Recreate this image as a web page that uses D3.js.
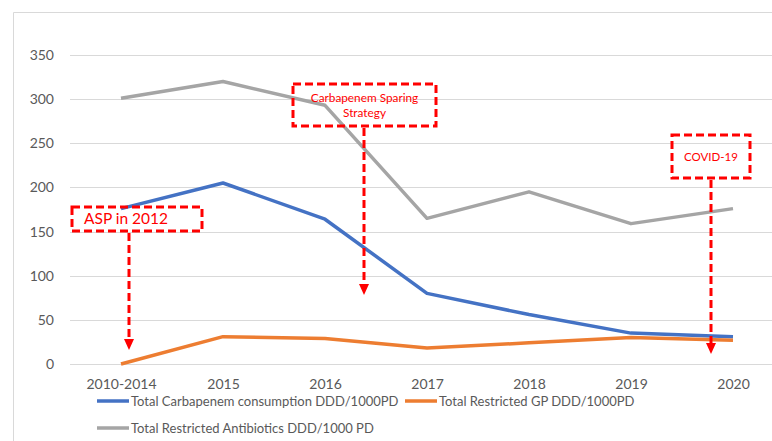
<!DOCTYPE html>
<html>
<head>
  <meta charset="utf-8">
  <title></title>
  <style>
    body { margin: 0; background: #fff; }
    text { font-family: Lato, "Open Sans", sans-serif; }
    .grid line { stroke: #d9d9d9; stroke-width: 1px; }
    .axis text { fill: #595959; font-size: 14px; }
    .legend text { fill: #595959; font-size: 13px; }
    .note rect, .note line { stroke: #ff0000; stroke-width: 3px; stroke-dasharray: 8,4; fill: none; }
    .note text { fill: #ff0000; }
  </style>
</head>
<body>
<svg width="772" height="441"></svg>
<script src="https://cdn.jsdelivr.net/npm/d3@7"></script>
<script>

var years = ["2010-2014", "2015", "2016", "2017", "2018", "2019", "2020"];
var carbapenem = [176, 205, 164, 80, 56, 35, 31];
var restrictedGP = [0, 31, 29, 18, 24, 30, 27];
var restrictedAB = [301, 320, 293, 165, 195, 159, 176];
var yTicks = [0, 50, 100, 150, 200, 250, 300, 350];

var seriesNames = ["Total Carbapenem consumption DDD/1000PD", "Total Restricted GP DDD/1000PD", "Total Restricted Antibiotics DDD/1000 PD"];
var colors = ["#4472c4", "#ed7d31", "#a5a5a5"];

var notes = [
  { lines: ["ASP in 2012"], size: 15.5 },
  { lines: ["Carbapenem Sparing", "Strategy"], size: 11.8 },
  { lines: ["COVID-19"], size: 11.5 }
];

var svg = d3.select("svg");

var x = d3.scalePoint().domain(years).range([121, 733]);
var y = d3.scaleLinear().domain([0, 350]).range([364, 55]);

// chart frame
svg.append("path")
  .attr("d", "M13.5,441 V12.5 H772")
  .attr("fill", "none")
  .attr("stroke", "#d9d9d9");

var grid = svg.append("g").attr("class", "grid");
grid.selectAll("line")
  .data(yTicks)
  .enter().append("line")
  .attr("x1", 70).attr("x2", 772)
  .attr("y1", function(d) { return Math.round(y(d)) + 0.5; })
  .attr("y2", function(d) { return Math.round(y(d)) + 0.5; });

var yAxis = svg.append("g").attr("class", "axis")
  .attr("transform", "translate(54,0)")
  .call(d3.axisLeft(y).tickValues(yTicks).tickSize(0).tickPadding(0));
yAxis.select(".domain").remove();

var xAxis = svg.append("g").attr("class", "axis")
  .attr("transform", "translate(0,376)")
  .call(d3.axisBottom(x).tickSize(0).tickPadding(0));
xAxis.select(".domain").remove();
xAxis.selectAll("text").attr("dy", "0.9em");

var line = d3.line()
  .x(function(d, i) { return x(years[i]); })
  .y(function(d) { return y(d); });

var data = [restrictedAB, carbapenem, restrictedGP];
var dataColors = [colors[2], colors[0], colors[1]];

svg.append("g").selectAll("path")
  .data(data)
  .enter().append("path")
  .attr("fill", "none")
  .attr("stroke", function(d, i) { return dataColors[i]; })
  .attr("stroke-width", 3.5)
  .attr("stroke-linejoin", "round")
  .attr("d", line);

// legend
var legendPos = [[97, 401], [405, 401], [97, 428]];
var legend = svg.append("g").attr("class", "legend")
  .selectAll("g")
  .data(seriesNames)
  .enter().append("g")
  .attr("transform", function(d, i) { return "translate(" + legendPos[i][0] + "," + legendPos[i][1] + ")"; });
legend.append("line")
  .attr("x1", 0).attr("x2", 32)
  .attr("stroke", function(d, i) { return colors[i]; })
  .attr("stroke-width", 3.5);
legend.append("text")
  .attr("x", 34)
  .attr("dy", "0.35em")
  .text(function(d) { return d; });

// annotation boxes with dashed arrows
var boxes = [
  { x0: 72, x1: 202, y0: 207, y1: 231, ax: 129, tip: 350 },
  { x0: 293, x1: 436, y0: 84, y1: 126, ax: 364, tip: 295 },
  { x0: 672, x1: 750, y0: 135, y1: 178, ax: 711, tip: 354 }
];

var note = svg.append("g").attr("class", "note")
  .selectAll("g")
  .data(notes)
  .enter().append("g");

note.append("line")
  .attr("x1", function(d, i) { return boxes[i].ax; })
  .attr("x2", function(d, i) { return boxes[i].ax; })
  .attr("y1", function(d, i) { return boxes[i].y1 + 2; })
  .attr("y2", function(d, i) { return boxes[i].tip - 9; });

note.append("path")
  .attr("fill", "#ff0000")
  .attr("d", function(d, i) {
    var b = boxes[i];
    return "M" + (b.ax - 5) + "," + (b.tip - 11) + "L" + (b.ax + 5) + "," + (b.tip - 11) + "L" + b.ax + "," + b.tip + "Z";
  });

note.append("rect")
  .attr("x", function(d, i) { return boxes[i].x0; })
  .attr("y", function(d, i) { return boxes[i].y0; })
  .attr("width", function(d, i) { return boxes[i].x1 - boxes[i].x0; })
  .attr("height", function(d, i) { return boxes[i].y1 - boxes[i].y0; });

note.each(function(d, i) {
  var b = boxes[i];
  var g = d3.select(this);
  var cy = (b.y0 + b.y1) / 2;
  var lh = d.size * 1.25;
  d.lines.forEach(function(t, k) {
    g.append("text")
      .attr("x", i === 0 ? 84 : (b.x0 + b.x1) / 2)
      .attr("y", cy + (k - (d.lines.length - 1) / 2) * lh)
      .attr("dy", "0.35em")
      .attr("text-anchor", i === 0 ? "start" : "middle")
      .style("font-size", d.size + "px")
      .text(t);
  });
});

</script>
</body>
</html>
